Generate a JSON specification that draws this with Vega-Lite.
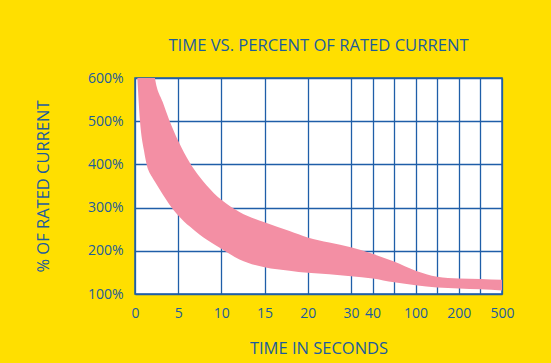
{
  "$schema": "https://vega.github.io/schema/vega-lite/v6.json",
  "autosize": {"type": "none"},
  "padding": {"left": 135, "top": 78, "right": 49, "bottom": 69},
  "width": 367,
  "height": 216,
  "background": "#FFDF00",
  "title": {
    "text": "TIME VS. PERCENT OF RATED CURRENT",
    "font": "Open Sans",
    "fontSize": 16.6,
    "fontWeight": "normal",
    "color": "#1d5c9c",
    "anchor": "middle",
    "offset": 16
  },
  "config": {
    "view": {"stroke": "#1f5ea8", "strokeWidth": 1.5, "fill": "white"},
    "axis": {
      "labelFont": "Open Sans",
      "labelFontSize": 14,
      "labelColor": "#1d5c9c",
      "titleFont": "Open Sans",
      "titleFontSize": 16.5,
      "titleFontWeight": "normal",
      "titleColor": "#1d5c9c",
      "ticks": false,
      "domain": false,
      "grid": true,
      "gridColor": "#1f5ea8",
      "gridWidth": 1.3,
      "gridOpacity": 1
    }
  },
  "data": {
    "values": [
      {"t": 0.27, "lo": 600, "hi": 1500},
      {"t": 0.58, "lo": 500, "hi": 1150},
      {"t": 1.04, "lo": 432, "hi": 950},
      {"t": 1.35, "lo": 400, "hi": 850},
      {"t": 1.94, "lo": 372, "hi": 700},
      {"t": 2.31, "lo": 360, "hi": 600},
      {"t": 3.2, "lo": 331, "hi": 545},
      {"t": 3.96, "lo": 308, "hi": 503},
      {"t": 5, "lo": 282, "hi": 455},
      {"t": 6.35, "lo": 256, "hi": 404},
      {"t": 7.5, "lo": 237, "hi": 371},
      {"t": 8.28, "lo": 226, "hi": 352},
      {"t": 10, "lo": 205, "hi": 318},
      {"t": 12.1, "lo": 180, "hi": 290},
      {"t": 15, "lo": 162, "hi": 266},
      {"t": 17.9, "lo": 154, "hi": 246},
      {"t": 20, "lo": 149, "hi": 231},
      {"t": 25, "lo": 146, "hi": 219},
      {"t": 30, "lo": 141, "hi": 208},
      {"t": 40, "lo": 136, "hi": 193},
      {"t": 60, "lo": 127, "hi": 175},
      {"t": 100, "lo": 120, "hi": 154},
      {"t": 150, "lo": 115, "hi": 140},
      {"t": 200, "lo": 113, "hi": 136},
      {"t": 300, "lo": 111, "hi": 135},
      {"t": 500, "lo": 108, "hi": 133}
    ]
  },
  "mark": {"type": "area", "color": "#F38FA4", "opacity": 1, "interpolate": "monotone", "clip": true},
  "encoding": {
    "x": {
      "field": "t",
      "type": "quantitative",
      "scale": {
        "domain": [0, 20, 30, 40, 60, 100, 150, 200, 300, 500],
        "range": [0, 172.7, 215.9, 237.5, 259.1, 280.6, 302.2, 323.8, 345.4, 367],
        "nice": false,
        "zero": false
      },
      "axis": {
        "values": [0, 5, 10, 15, 20, 30, 40, 60, 100, 150, 200, 300, 500],
        "labelExpr": "(datum.value == 60 || datum.value == 150 || datum.value == 300) ? '' : datum.label",
        "labelPadding": 12,
        "titlePadding": 20,
        "labelFlush": false,
        "labelOverlap": false
      },
      "title": "TIME IN SECONDS"
    },
    "y": {
      "field": "lo",
      "type": "quantitative",
      "scale": {"domain": [100, 600], "nice": false, "zero": false},
      "axis": {
        "values": [100, 200, 300, 400, 500, 600],
        "labelExpr": "datum.value + '%'",
        "labelPadding": 12,
        "titlePadding": 36
      },
      "title": "% OF RATED CURRENT"
    },
    "y2": {"field": "hi"}
  }
}
